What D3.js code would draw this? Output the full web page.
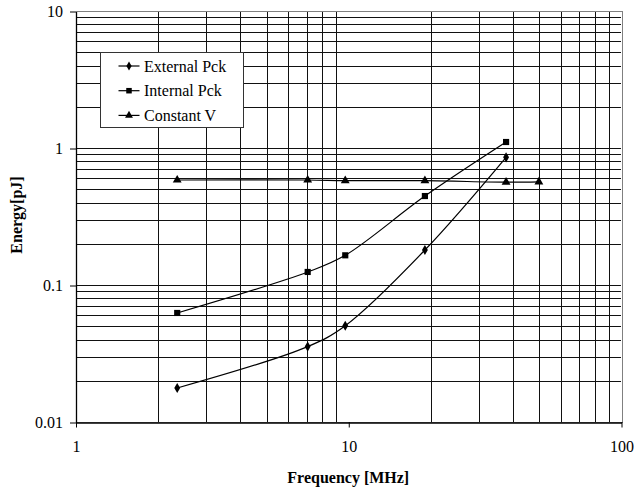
<!DOCTYPE html>
<html>
<head>
<meta charset="utf-8">
<script src="https://cdn.jsdelivr.net/npm/d3@7"></script>
<style>
  body { margin: 0; background: #fff; }
  svg text { font-family: "Liberation Serif", "Times New Roman", serif !important; }
</style>
</head>
<body>
<div id="app"></div>
<script>
// energy vs frequency, log-log, Excel style

const freqs = [2.36, 7.1, 9.75, 19.1, 37.9];
const freqsConstV = [2.36, 7.1, 9.75, 19.1, 37.9, 50];
const externalPck = [0.0177, 0.0355, 0.0504, 0.180, 0.855];
const internalPck = [0.0625, 0.1245, 0.1647, 0.446, 1.106];
const constantV = [0.584, 0.584, 0.577, 0.577, 0.563, 0.566];

const xTicks = [1, 10, 100];
const yTicks = [0.01, 0.1, 1, 10];
const yTickLabels = ["0.01", "0.1", "1", "10"];

const seriesNames = ["External Pck", "Internal Pck", "Constant V"];

const series = [
  { name: seriesNames[0], x: freqs, y: externalPck, sym: d3.symbolDiamond, size: 30 },
  { name: seriesNames[1], x: freqs, y: internalPck, sym: d3.symbolSquare, size: 38 },
  { name: seriesNames[2], x: freqsConstV, y: constantV, sym: d3.symbolTriangle, size: 34 }
];

const FONT = '"Liberation Serif", "Times New Roman", serif';

const dims = {
  width: 634,
  height: 490,
  margin: { top: 11, right: 13, bottom: 68, left: 75.5 }
};
dims.boundedWidth = dims.width - dims.margin.left - dims.margin.right;
dims.boundedHeight = dims.height - dims.margin.top - dims.margin.bottom;

const svg = d3.select("#app")
  .append("svg")
  .attr("width", dims.width)
  .attr("height", dims.height);

const bounds = svg.append("g")
  .attr("transform", `translate(${dims.margin.left},${dims.margin.top})`);

const xScale = d3.scaleLog().domain([1, 100]).range([0, dims.boundedWidth]);
const yScale = d3.scaleLog().domain([0.01, 10]).range([dims.boundedHeight, 0]);

// grid: every 1..9 of each decade
const xGrid = [];
for (let dec = 1; dec < 100; dec *= 10)
  for (let m = 2; m <= 9; m++) xGrid.push(m * dec);
const yGrid = [];
for (let dec = 0.01; dec < 9; dec *= 10)
  for (let m = 1; m <= 9; m++) yGrid.push(+(m * dec).toPrecision(3));
yGrid.push(10);

const grid = bounds.append("g").attr("shape-rendering", "crispEdges");
grid.selectAll(".hl").data(yGrid).join("line")
  .attr("x1", 0).attr("x2", dims.boundedWidth)
  .attr("y1", d => Math.round(yScale(d)) + 0.5)
  .attr("y2", d => Math.round(yScale(d)) + 0.5)
  .attr("stroke", "#111").attr("stroke-width", 1);
grid.selectAll(".vl").data(xGrid).join("line")
  .attr("y1", 0).attr("y2", dims.boundedHeight)
  .attr("x1", d => Math.round(xScale(d)) + 0.5)
  .attr("x2", d => Math.round(xScale(d)) + 0.5)
  .attr("stroke", "#111").attr("stroke-width", 1);

// plot frame top/right (gray)
bounds.append("rect")
  .attr("x", 0.5).attr("y", 0.5)
  .attr("width", Math.round(dims.boundedWidth))
  .attr("height", Math.round(dims.boundedHeight))
  .attr("fill", "none")
  .attr("stroke", "#808080")
  .attr("shape-rendering", "crispEdges");

// axes
const xAxis = bounds.append("g")
  .attr("transform", `translate(0.5,${Math.round(dims.boundedHeight) + 0.5})`)
  .call(d3.axisBottom(xScale).tickValues(xTicks).tickFormat(d3.format("d"))
    .tickSizeInner(5).tickSizeOuter(0).tickPadding(13));
const yAxis = bounds.append("g")
  .attr("transform", "translate(0.5,0.5)")
  .call(d3.axisLeft(yScale).tickValues(yTicks).tickFormat((d, i) => yTickLabels[i])
    .tickSizeInner(6).tickSizeOuter(0).tickPadding(7));

[xAxis, yAxis].forEach(ax => {
  ax.attr("font-family", FONT).attr("font-size", 16);
  ax.selectAll("path").attr("stroke", "#000").attr("stroke-width", 1.3);
  ax.selectAll("line").attr("stroke", "#000");
  ax.selectAll("text").attr("fill", "#000");
});
xAxis.selectAll("line").attr("y1", -0.5);

// lines
const line = d3.line()
  .x(d => xScale(d[0]))
  .y(d => yScale(d[1]))
  .curve(d3.curveCatmullRom.alpha(0.5));

const dataGroup = bounds.append("g");
series.forEach(s => {
  const pts = s.x.map((x, i) => [x, s.y[i]]);
  dataGroup.append("path")
    .datum(pts)
    .attr("d", line)
    .attr("fill", "none")
    .attr("stroke", "#000")
    .attr("stroke-width", 1.2);
  dataGroup.selectAll(null)
    .data(pts)
    .join("path")
    .attr("transform", d => `translate(${xScale(d[0])},${yScale(d[1])})`)
    .attr("d", d3.symbol().type(s.sym).size(s.size))
    .attr("fill", "#000");
});

// legend
const legend = svg.append("g").attr("transform", "translate(100.5,52.5)");
legend.append("rect")
  .attr("width", 143).attr("height", 75)
  .attr("fill", "#fff").attr("stroke", "#333")
  .attr("shape-rendering", "crispEdges");
series.forEach((s, i) => {
  const yy = 13.5 + i * 24.7;
  legend.append("line")
    .attr("x1", 18).attr("x2", 39)
    .attr("y1", yy).attr("y2", yy)
    .attr("stroke", "#000").attr("stroke-width", 1.2);
  legend.append("path")
    .attr("transform", `translate(28.5,${yy})`)
    .attr("d", d3.symbol().type(s.sym).size(s.size * 0.8))
    .attr("fill", "#000");
  legend.append("text")
    .attr("x", 43.5).attr("y", yy)
    .attr("dy", "0.35em")
    .attr("font-family", FONT)
    .attr("font-size", 16)
    .text(s.name);
});

// axis titles
svg.append("text")
  .attr("x", dims.margin.left + dims.boundedWidth / 2)
  .attr("y", 483)
  .attr("text-anchor", "middle")
  .attr("font-family", FONT)
  .attr("font-size", 16)
  .attr("font-weight", "bold")
  .text("Frequency [MHz]");

svg.append("text")
  .attr("transform", "translate(22,215) rotate(-90)")
  .attr("text-anchor", "middle")
  .attr("font-family", FONT)
  .attr("font-size", 16)
  .attr("font-weight", "bold")
  .text("Energy[pJ]");
</script>
</body>
</html>
